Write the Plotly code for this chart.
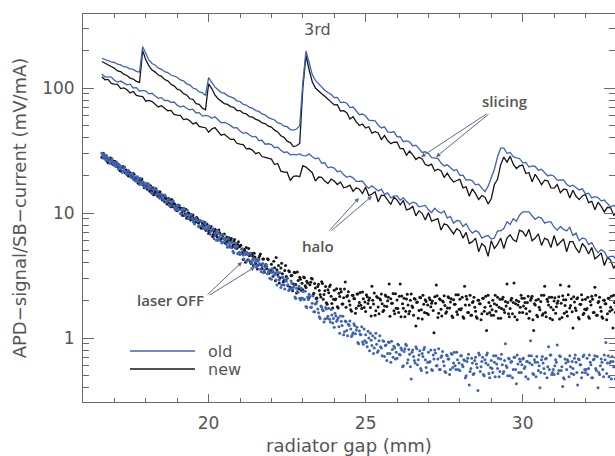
import plotly.graph_objects as go

# ---------------- data ----------------
# line traces sampled every 0.1 mm from 16.6 to 33.0 mm
gap_line = [round(16.6 + 0.1 * i, 2) for i in range(165)]

slicing_old = [
    173, 169, 167, 162,
    160, 155, 153, 148, 147, 142, 141, 136, 134, 214,
    190, 167, 157, 152, 144, 141, 135, 133, 127, 125,
    122, 116, 114, 108, 106, 100, 98, 93, 92, 87,
    121, 111, 102, 97, 92, 91, 87, 85, 83, 79,
    78, 74, 73, 70, 69, 66, 65, 62, 61, 58,
    57, 55.5, 52.5, 52, 49.5, 49, 46.5, 46, 47, 50,
    110, 198, 160, 128, 115, 108, 102, 96, 92, 89,
    83.9, 84.0, 76.4, 77.2, 75.5, 69.8, 70.4, 65.1, 61.1, 61.9,
    59.7, 55.4, 55.3, 54.7, 50.4, 47.9, 48.9, 44.6, 44.2, 44.8,
    40.6, 40.8, 37.2, 37.8, 37.1, 34.4, 34.9, 32.3, 30.5, 30.9,
    29.9, 27.7, 27.6, 27.3, 25.1, 23.8, 24.3, 22.9, 21.9, 22.2,
    20.0, 20.1, 18.3, 18.5, 18.1, 16.8, 17.0, 15.8, 14.8, 16.4,
    19.3, 22.4, 28.2, 33.0, 33.0, 30.0, 30.5, 28.2, 27.6, 27.3,
    25.2, 25.4, 23.3, 23.8, 23.6, 21.9, 22.4, 20.9, 19.8, 20.2,
    19.7, 18.3, 18.4, 18.4, 17.0, 16.3, 16.7, 15.9, 15.3, 15.6,
    14.2, 14.4, 13.2, 13.5, 13.3, 12.5, 12.7, 11.9, 11.2, 11.5,
    11.0,
]

slicing_new = [
    163, 158, 154, 147,
    144, 137, 135, 129, 126, 120, 118, 113, 111, 200,
    168, 150, 139, 134, 127, 124, 117, 114, 107, 104,
    98, 96, 90, 88, 82, 81, 75, 74, 69, 67,
    108, 99, 88, 82, 78, 75, 74, 71, 70, 66,
    66, 63, 62, 59, 58.5, 56, 55, 52.5, 52, 49.5,
    48.7, 46, 44.5, 41.5, 40.3, 37.6, 36.6, 34, 34.5, 36,
    100, 182, 140, 112, 100, 94, 90, 86, 82, 78,
    73.3, 73.5, 65.5, 65.8, 63.4, 56.4, 59.0, 53.6, 50.1, 51.5,
    47.8, 49.0, 43.5, 44.7, 43.7, 38.7, 41.7, 38.0, 35.9, 36.8,
    36.8, 32.7, 32.7, 29.0, 31.3, 29.2, 26.8, 27.9, 27.1, 24.4,
    23.9, 24.6, 21.7, 22.4, 21.8, 19.3, 20.8, 18.9, 17.7, 18.2,
    18.6, 15.9, 16.2, 13.6, 15.6, 14.3, 12.8, 13.8, 13.4, 11.8,
    13.0, 16.9, 18.6, 24.4, 28.0, 25.5, 28.4, 24.6, 22.7, 23.8,
    24.2, 20.7, 21.1, 17.8, 20.4, 18.7, 16.8, 18.3, 18.1, 15.9,
    15.8, 16.9, 14.5, 15.5, 15.4, 13.2, 15.2, 13.6, 12.8, 13.7,
    14.1, 12.1, 12.4, 10.6, 12.2, 11.3, 10.2, 11.1, 11.0, 9.6,
    10.0,
]

halo_old = [
    129.5, 122.8, 122.7, 122.4,
    115.4, 111.5, 113.6, 109, 106, 107.3, 100, 100.7, 94.3, 95.6,
    94.6, 89.7, 90.8, 86.2, 82.7, 83.8, 79.4, 79.6, 76.8, 77.3,
    72.9, 70.4, 71.8, 68.9, 66.9, 67.8, 63.1, 63.6, 59.6, 60.4,
    59.7, 57.3, 58.9, 55.7, 52.7, 53.1, 52.0, 50.0, 48.0, 48.1,
    45.2, 43.4, 44.1, 42.1, 40.7, 41.0, 38.0, 38.2, 35.5, 35.8,
    35.3, 33.3, 33.6, 31.8, 30.5, 30.8, 29.2, 29.4, 29.2, 29.7,
    28.8, 28.6, 29.7, 28.2, 27.2, 27.6, 25.0, 25.2, 23.0, 23.4,
    22.9, 21.4, 21.7, 20.2, 19.3, 19.7, 19.1, 17.9, 18.0, 18.0,
    16.6, 15.8, 16.5, 15.6, 15.0, 15.5, 14.1, 14.5, 13.2, 13.7,
    13.7, 12.7, 13.2, 12.4, 11.7, 12.2, 12.0, 11.2, 11.4, 11.5,
    10.6, 10.1, 10.9, 10.3, 10.0, 10.4, 9.1, 9.4, 8.3, 8.7,
    8.6, 7.8, 8.2, 7.4, 6.9, 7.2, 7.0, 6.3, 6.5, 6.6,
    6.2, 6.3, 7.2, 7.2, 7.5, 8.5, 8.1, 9.0, 8.6, 9.6,
    10.2, 10.2, 10.2, 9.5, 8.9, 9.3, 9.1, 8.3, 8.5, 8.5,
    7.7, 7.3, 7.8, 7.4, 7.2, 7.7, 6.6, 6.9, 6.0, 6.3,
    6.2, 5.6, 5.8, 5.2, 4.8, 5.1, 4.9, 4.4, 4.5, 4.5,
    4.1,
]

halo_new = [
    122.8, 116.4, 117.2, 108.9,
    107.5, 107.1, 98.9, 100.1, 96.8, 91.3, 93.7, 87.1, 86.0, 85.2,
    78.4, 79.7, 77.9, 73.8, 70.6, 72.2, 69.4, 65.8, 66.2, 61.5,
    60.7, 60.5, 55.9, 56.6, 54.7, 51.6, 52.9, 49.3, 48.6, 48.1,
    44.3, 47.0, 48.2, 44.6, 41.9, 42.7, 41.0, 38.8, 39.0, 36.1,
    35.5, 35.3, 32.6, 32.8, 31.7, 29.8, 30.5, 28.3, 27.9, 27.5,
    27.0, 24.4, 24.9, 21.6, 21.2, 21.2, 18.2, 19.6, 19.8, 19.5,
    23.9, 23.3, 22.0, 21.0, 18.0, 19.4, 19.3, 18.0, 17.2, 18.7,
    18.0, 16.9, 17.7, 15.9, 16.2, 16.7, 14.9, 15.9, 15.5, 14.3,
    16.1, 13.8, 14.2, 14.8, 12.3, 13.9, 13.8, 12.6, 11.7, 13.4,
    12.7, 11.6, 12.6, 10.6, 10.8, 11.3, 9.5, 10.4, 9.9, 8.8,
    10.1, 8.6, 8.8, 9.0, 7.3, 8.2, 8.0, 7.3, 6.8, 7.5,
    7.2, 6.3, 7.0, 5.7, 5.9, 6.3, 4.9, 5.7, 5.4, 4.5,
    6.0, 5.2, 5.6, 6.3, 5.2, 6.3, 6.7, 6.1, 5.9, 7.3,
    7.1, 6.5, 7.4, 6.0, 6.3, 6.8, 5.5, 6.3, 6.1, 5.3,
    6.6, 5.5, 5.8, 6.2, 4.9, 5.9, 5.9, 5.2, 4.8, 5.7,
    5.3, 4.7, 5.3, 4.3, 4.5, 4.8, 3.8, 4.4, 4.2, 3.6,
    4.0,
]

# laser OFF scatter: two interleaved samplings, every 0.05 mm each
gap_off_a = [round(16.6 + 0.05 * i, 3) for i in range(328)]
gap_off_b = [round(16.625 + 0.05 * i, 3) for i in range(328)]

laser_off_old_a = [
    30.0, 27.4, 28.2, 28.8, 26.3, 25.0, 26.6, 25.3,
    25.4, 23.4, 24.1, 24.4, 22.5, 21.2, 22.7, 21.5, 20.5, 21.9, 20.1, 20.6, 18.6, 19.4, 18.3, 19.1, 16.9, 17.7, 17.8, 16.3,
    15.9, 17.0, 15.7, 15.9, 14.3, 15.4, 15.5, 14.0, 14.2, 13.1, 14.1, 12.9, 13.9, 12.2, 12.7, 11.5, 12.3, 12.4, 11.4, 10.5,
    11.5, 10.6, 9.9, 10.7, 10.9, 9.56, 9.84, 9.03, 9.6, 9.78, 8.71, 8.18, 9.0, 8.61, 7.9, 8.6, 7.92, 7.63, 8.27, 7.21,
    7.64, 6.77, 7.2, 7.47, 6.58, 6.04, 6.84, 6.38, 5.94, 6.74, 5.88, 6.23, 5.31, 5.82, 5.32, 5.81, 4.79, 5.26, 5.37, 4.7,
    4.66, 5.14, 4.62, 4.75, 4.11, 4.65, 4.73, 4.09, 4.21, 3.8, 4.24, 3.8, 4.24, 3.54, 3.76, 3.33, 3.69, 3.76, 3.38, 3.01,
    2.95, 3.43, 3.23, 2.91, 3.36, 2.92, 2.53, 3.08, 2.66, 2.88, 3.0, 2.4, 2.49, 2.74, 2.55, 2.13, 2.5, 2.32, 2.08, 2.5,
    2.36, 2.03, 1.79, 2.13, 2.24, 1.76, 1.9, 1.62, 1.87, 1.96, 1.59, 1.43, 1.77, 1.65, 1.42, 1.71, 1.49, 1.41, 1.69, 1.32,
    1.22, 1.5, 1.4, 1.23, 1.5, 1.26, 1.06, 1.37, 1.15, 1.29, 1.37, 1.03, 1.1, 1.26, 1.16, 0.92, 1.14, 1.06, 0.93, 1.18,
    1.06, 0.85, 1.0, 1.09, 0.87, 0.75, 1.0, 0.89, 0.79, 1.04, 0.83, 0.95, 0.71, 0.88, 0.75, 0.92, 0.64, 0.81, 0.86, 0.68,
    0.69, 0.88, 0.73, 0.8, 0.6, 0.82, 0.87, 0.67, 0.74, 0.47, 0.8, 0.66, 0.85, 0.61, 0.73, 0.57, 0.75, 0.81, 0.67, 0.53,
    0.77, 0.65, 0.56, 0.73, 0.8, 0.6, 0.68, 0.56, 0.7, 0.78, 0.6, 0.53, 0.72, 0.68, 0.56, 0.74, 0.63, 0.6, 0.77, 0.56,
    0.55, 0.72, 0.59, 0.66, 0.5, 0.69, 0.42, 0.57, 0.63, 0.52, 0.7, 0.58, 0.76, 0.54, 0.65, 0.51, 0.67, 0.73, 0.61, 0.48,
    0.66, 0.53, 0.64, 0.72, 0.57, 0.49, 0.68, 0.61, 0.54, 0.9, 0.58, 0.69, 0.5, 0.65, 0.56, 0.7, 0.43, 0.62, 0.68, 0.53,
    0.68, 0.57, 0.49, 0.65, 0.72, 0.95, 0.61, 0.51, 0.64, 0.71, 0.55, 0.4, 0.67, 0.63, 0.52, 0.69, 0.59, 0.56, 0.73, 0.53,
    0.51, 0.67, 0.88, 0.55, 0.71, 0.59, 0.48, 0.68, 0.56, 0.65, 0.72, 0.52, 0.57, 0.69, 0.64, 0.42, 0.67, 0.61, 0.53, 0.73,
    0.53, 0.69, 0.57, 0.64, 0.48, 0.67, 0.72, 0.55, 0.4, 0.51, 0.68, 0.56, 0.73, 0.92, 0.63, 0.49, 0.65, 0.71, 0.59, 0.47,
]

laser_off_old_b = [
    28.7, 29.6, 26.6, 27.5, 27.6, 25.6, 27.1, 24.4,
    24.4, 25.5, 22.5, 23.4, 23.7, 21.7, 23.3, 20.6, 21.6, 20.6, 19.3, 20.5, 19.7, 18.0, 19.5, 17.9, 19.0, 17.0, 17.6, 16.9,
    17.3, 16.1, 16.3, 14.5, 15.5, 15.8, 14.0, 14.9, 13.3, 14.1, 13.5, 12.7, 13.7, 12.5, 13.0, 11.4, 12.1, 12.5, 10.9, 11.1,
    10.7, 11.5, 9.84, 10.5, 10.7, 9.56, 10.5, 9.03, 9.68, 9.12, 8.42, 9.17, 8.79, 7.79, 8.76, 7.88, 8.55, 7.44, 7.84, 7.51,
    7.86, 7.13, 7.34, 6.23, 6.92, 7.24, 6.12, 6.7, 5.75, 6.31, 6.0, 5.59, 6.23, 5.54, 5.87, 4.94, 5.37, 5.73, 4.75, 4.85,
    4.75, 5.18, 4.29, 4.66, 4.79, 4.21, 4.77, 3.96, 4.34, 4.05, 3.68, 4.12, 3.93, 3.39, 3.95, 3.48, 3.87, 3.27, 3.51, 3.34,
    3.59, 3.17, 3.32, 2.65, 3.10, 3.33, 2.66, 3.04, 2.47, 2.84, 2.67, 2.44, 2.86, 2.45, 2.62, 2.07, 2.35, 2.59, 2.01, 2.09,
    2.05, 2.37, 1.75, 2.03, 2.15, 1.76, 2.17, 1.62, 1.89, 1.71, 1.48, 1.80, 1.69, 1.34, 1.75, 1.44, 1.73, 1.34, 1.53, 1.43,
    1.58, 1.36, 1.45, 1.09, 1.36, 1.49, 1.12, 1.35, 1.04, 1.26, 1.18, 1.06, 1.30, 1.08, 1.22, 0.90, 1.07, 1.23, 0.89, 0.95,
    0.92, 1.13, 0.79, 0.96, 1.04, 0.83, 1.09, 0.77, 0.95, 0.85, 0.72, 0.94, 0.87, 0.66, 0.93, 0.75, 0.94, 0.70, 0.83, 0.77,
    0.89, 0.74, 0.83, 0.59, 0.78, 0.89, 0.63, 0.81, 0.59, 0.77, 0.71, 0.63, 0.82, 0.67, 0.79, 0.55, 0.71, 0.84, 0.58, 0.64,
    0.64, 0.80, 0.55, 0.68, 0.76, 0.60, 0.82, 0.56, 0.72, 0.65, 0.54, 0.73, 0.68, 0.51, 0.75, 0.58, 0.77, 0.56, 0.67, 0.63,
    0.72, 0.61, 0.67, 0.48, 0.65, 0.74, 0.54, 0.69, 0.51, 0.66, 0.62, 0.38, 0.73, 0.59, 0.70, 0.50, 0.63, 0.76, 0.52, 0.58,
    0.57, 0.72, 0.49, 0.62, 0.69, 0.54, 0.74, 0.52, 0.66, 0.60, 0.50, 0.68, 0.64, 0.48, 0.70, 0.56, 0.73, 0.53, 0.65, 0.61,
    0.69, 0.59, 0.65, 0.47, 0.63, 0.72, 0.52, 0.67, 0.49, 0.64, 0.60, 0.53, 0.71, 0.57, 0.68, 0.48, 0.85, 0.73, 0.51, 0.56,
    0.60, 0.64, 0.52, 0.72, 0.55, 0.41, 0.47, 0.63, 0.67, 0.49, 0.59, 0.65, 0.51, 0.73, 0.53, 0.68, 0.61, 0.48, 0.71, 0.56,
    0.56, 0.51, 0.73, 0.61, 0.48, 0.68, 0.57, 0.71, 0.53, 0.60, 0.64, 0.49, 0.67, 0.52, 0.72, 0.63, 0.47, 0.65, 0.59, 0.69,
]

laser_off_new_a = [
    27.9, 29.9, 27.6, 27.9, 25.2, 27.4, 27.3, 24.5,
    24.1, 25.3, 23.5, 23.7, 21.7, 23.1, 23.2, 21.0, 21.2, 19.8, 21.0, 19.5, 20.7, 18.4, 18.9, 17.4, 18.4, 18.4, 17.2, 15.9,
    17.0, 15.5, 16.1, 16.5, 15.0, 14.0, 15.1, 14.4, 13.6, 14.8, 13.3, 13.8, 12.3, 13.0, 12.2, 12.8, 11.2, 11.8, 11.9, 10.8,
    10.4, 11.2, 10.8, 10.1, 10.9, 9.88, 9.06, 10.0, 9.15, 9.48, 9.65, 8.4, 8.51, 8.94, 8.5, 7.62, 8.3, 7.88, 7.35, 8.11,
    6.84, 7.59, 7.26, 6.73, 7.43, 6.71, 6.08, 6.94, 6.26, 6.6, 6.78, 5.79, 5.93, 6.34, 6.02, 5.32, 5.93, 5.62, 5.22, 5.88,
    5.45, 4.76, 4.25, 5.02, 5.29, 4.23, 4.56, 3.95, 4.52, 4.77, 3.95, 3.57, 4.38, 4.7, 3.59, 4.28, 3.75, 3.58, 4.24, 3.37,
    3.89, 3.12, 3.64, 4.4, 3.2, 2.75, 3.63, 3.26, 2.89, 3.8, 3.0, 3.45, 2.55, 3.17, 2.71, 3.32, 2.29, 2.88, 3.06, 2.41,
    2.43, 3.04, 2.53, 2.76, 2.11, 2.79, 2.96, 2.28, 2.51, 2.09, 2.69, 2.23, 2.82, 2.04, 2.39, 1.91, 2.43, 2.58, 2.16, 1.74,
    2.41, 2.05, 1.78, 2.28, 2.47, 1.87, 2.1, 2.8, 2.15, 2.34, 1.84, 1.64, 2.19, 2.06, 1.73, 2.25, 1.92, 1.83, 2.33, 1.75,
    1.63, 2.14, 2.0, 1.75, 2.6, 1.87, 1.52, 2.15, 1.77, 2.06, 2.25, 1.63, 1.8, 2.16, 1.99, 2.7, 2.06, 1.9, 1.65, 2.26,
    2.01, 1.6, 2.7, 2.17, 1.73, 1.48, 2.05, 1.84, 1.64, 2.25, 1.75, 2.07, 1.25, 1.94, 1.66, 2.1, 1.42, 1.86, 2.02, 1.58,
    1.54, 2.02, 1.9, 1.66, 2.14, 2.65, 1.46, 2.06, 1.7, 1.98, 2.18, 1.58, 1.74, 2.1, 1.94, 1.5, 2.02, 1.86, 1.62, 2.22,
    2.04, 1.72, 1.48, 2.6, 2.16, 1.6, 1.84, 1.52, 1.92, 2.12, 1.64, 1.44, 2.0, 1.88, 1.56, 2.08, 1.76, 1.15, 2.2, 1.6,
    1.52, 2.0, 1.88, 1.64, 2.12, 1.76, 1.44, 2.04, 1.68, 1.96, 2.7, 1.56, 1.72, 2.08, 1.92, 1.48, 2.0, 1.84, 1.6, 2.2,
    1.6, 2.08, 1.72, 1.92, 1.44, 2.0, 2.16, 1.15, 1.84, 1.52, 2.04, 1.68, 2.2, 1.56, 2.6, 1.48, 1.96, 2.12, 1.76, 1.4,
    1.98, 1.58, 1.9, 2.14, 2.65, 1.46, 2.02, 1.82, 1.62, 2.22, 1.74, 2.06, 1.2, 1.94, 1.66, 2.1, 1.42, 1.86, 2.02, 1.58,
    2.04, 1.72, 1.48, 1.96, 2.16, 1.6, 2.55, 1.52, 1.92, 2.12, 1.64, 1.44, 2.0, 1.88, 1.56, 2.08, 1.76, 1.68, 2.2, 1.6,
]

laser_off_new_b = [
    30.1, 28.4, 28.5, 26.0, 27.1, 27.5, 25.0, 25.9,
    25.8, 24.2, 24.4, 21.9, 23.2, 23.6, 21.2, 22.1, 20.1, 21.1, 20.3, 19.3, 20.4, 18.9, 19.4, 17.3, 18.1, 18.7, 16.6, 16.6,
    16.2, 17.1, 14.9, 15.7, 15.9, 14.4, 15.6, 13.7, 14.5, 13.7, 12.7, 13.7, 13.2, 11.8, 13.1, 11.9, 12.8, 11.2, 11.7, 11.3,
    11.6, 10.7, 10.9, 9.57, 10.4, 10.7, 9.29, 9.95, 8.78, 9.41, 9.0, 8.47, 9.2, 8.33, 8.7, 7.55, 8.04, 8.45, 7.23, 7.33,
    7.13, 7.80, 6.48, 7.07, 7.30, 6.44, 7.32, 6.11, 6.70, 6.29, 5.76, 6.43, 6.16, 5.38, 6.24, 5.54, 6.14, 5.25, 5.63, 5.38,
    5.53, 4.84, 5.12, 4.03, 4.80, 5.19, 4.09, 4.74, 3.81, 4.45, 4.2, 3.82, 4.56, 3.88, 4.29, 3.35, 3.87, 4.31, 3.30, 3.48,
    3.38, 4.12, 2.87, 3.52, 3.81, 3.02, 3.96, 2.80, 3.47, 3.11, 2.62, 3.39, 3.15, 2.39, 3.36, 2.68, 3.37, 2.48, 2.95, 2.74,
    3.08, 2.62, 2.85, 2.08, 2.67, 3.0, 2.21, 2.73, 2.07, 2.58, 2.40, 2.13, 2.73, 2.23, 2.58, 1.86, 2.30, 2.66, 1.89, 2.04,
    2.02, 2.48, 1.74, 2.15, 2.34, 1.87, 2.47, 1.76, 2.19, 1.98, 1.68, 2.2, 2.07, 1.58, 2.25, 1.81, 2.31, 1.72, 2.06, 1.94,
    2.22, 1.89, 2.09, 1.5, 2.0, 2.29, 1.65, 2.11, 1.56, 2.01, 1.88, 1.67, 2.21, 1.79, 2.12, 1.49, 1.9, 2.27, 1.56, 1.73,
    1.72, 2.16, 1.48, 1.88, 2.08, 1.64, 2.24, 1.56, 2.0, 1.8, 1.52, 2.04, 1.92, 1.44, 2.12, 1.68, 2.2, 1.6, 1.96, 1.84,
    2.1, 1.78, 1.98, 1.1, 1.9, 2.18, 1.58, 2.02, 1.5, 1.94, 1.82, 1.62, 2.14, 1.74, 2.06, 1.46, 1.86, 2.22, 1.54, 1.7,
    1.68, 2.12, 1.44, 1.84, 2.04, 1.6, 2.2, 1.52, 1.96, 1.76, 1.48, 2.0, 1.88, 1.4, 2.08, 1.64, 2.16, 1.56, 1.92, 1.8,
    1.68, 1.52, 2.2, 1.84, 1.44, 2.04, 1.72, 2.12, 1.6, 1.8, 1.92, 1.48, 2.0, 1.56, 2.75, 1.88, 1.4, 1.96, 1.76, 2.08,
    1.8, 1.92, 1.56, 2.16, 1.64, 2.08, 1.4, 1.88, 2.0, 1.48, 1.76, 1.96, 1.52, 2.2, 1.6, 2.04, 1.84, 1.44, 2.12, 1.68,
    2.1, 1.78, 1.98, 1.42, 1.9, 2.18, 1.58, 2.02, 1.5, 2.6, 1.82, 1.62, 2.14, 1.74, 2.06, 1.46, 1.86, 2.22, 1.54, 1.7,
    1.68, 2.12, 1.44, 1.84, 2.04, 1.6, 2.2, 1.52, 1.96, 1.76, 1.48, 2.0, 1.88, 1.4, 2.08, 1.64, 2.16, 1.2, 1.92, 1.8,
]

x_major = [20, 25, 30]
x_minor = [17, 18, 19, 21, 22, 23, 24, 26, 27, 28, 29, 31, 32]
y_major = [1, 10, 100]
y_major_text = ["1", "10", "100"]
y_minor = [0.4, 0.5, 0.6, 0.7, 0.8, 0.9, 2, 3, 4, 5, 6, 7, 8, 9,
           20, 30, 40, 50, 60, 70, 80, 90, 200, 300]

series_names = ["old", "new"]

# ---------------- styling ----------------
BLUE = "#3f63b3"
BLACK = "#161616"
TXT = "#555555"
AX = "#6a6a6a"
ARROW = "#5a6b92"
AXFONT = "DejaVu Sans"
LBLFONT = "Open Sans"

fig = go.Figure()

# laser OFF scatter (new under old)
for xs, ys in [(gap_off_a, laser_off_new_a), (gap_off_b, laser_off_new_b)]:
    fig.add_trace(go.Scatter(x=xs, y=ys, mode="markers",
                             marker=dict(size=3, color=BLACK), name="laser OFF new",
                             showlegend=False, hoverinfo="skip"))
for xs, ys in [(gap_off_a, laser_off_old_a), (gap_off_b, laser_off_old_b)]:
    fig.add_trace(go.Scatter(x=xs, y=ys, mode="markers",
                             marker=dict(size=3, color=BLUE), name="laser OFF old",
                             showlegend=False, hoverinfo="skip"))

for yvals, col, nm in [(halo_new, BLACK, "halo new"), (slicing_new, BLACK, "slicing new"),
                       (halo_old, BLUE, "halo old"), (slicing_old, BLUE, "slicing old")]:
    fig.add_trace(go.Scatter(x=gap_line, y=yvals, mode="lines",
                             line=dict(color=col, width=1.3), name=nm,
                             showlegend=False, hoverinfo="skip"))

# ---------------- axes ----------------
fig.update_xaxes(
    range=[16.0, 32.94], showgrid=False, zeroline=False,
    showline=True, linecolor=AX, linewidth=1, mirror="ticks",
    ticks="inside", ticklen=8, tickcolor=AX, tickwidth=1,
    tickvals=x_major, ticktext=[str(v) for v in x_major],
    tickfont=dict(family=AXFONT, size=17, color=TXT), ticklabelstandoff=6,
    minor=dict(tickvals=x_minor, ticks="inside", ticklen=4, tickcolor=AX),
    title=dict(text="radiator gap (mm)", font=dict(family=AXFONT, size=18, color=TXT),
               standoff=6),
)
fig.update_yaxes(
    type="log", range=[-0.512, 2.592], showgrid=False, zeroline=False,
    showline=True, linecolor=AX, linewidth=1, mirror="ticks",
    ticks="inside", ticklen=11, tickcolor=AX, tickwidth=1,
    tickvals=y_major, ticktext=y_major_text,
    tickfont=dict(family=AXFONT, size=17, color=TXT), ticklabelstandoff=4,
    minor=dict(tickvals=y_minor, ticks="inside", ticklen=6, tickcolor=AX),
    title=dict(text="APD\u2212signal/SB\u2212current (mV/mA)",
               font=dict(family=AXFONT, size=18, color=TXT), standoff=10),
)

# ---------------- annotations ----------------
def px2paper(px, py):
    return (px - 83) / 532.0, (402 - py) / 388.0

annotations = []

def label(text, px, py, size=15, family=LBLFONT, weight=600):
    x, y = px2paper(px, py)
    annotations.append(dict(x=x, y=y, xref="paper", yref="paper", text=text,
                            showarrow=False, xanchor="center", yanchor="middle",
                            font=dict(family=family, size=size, color=TXT, weight=weight)))

def arrow(tail, tip):
    x, y = px2paper(*tip)
    annotations.append(dict(x=x, y=y, xref="paper", yref="paper", text="",
                            showarrow=True, ax=tail[0] - tip[0], ay=tail[1] - tip[1],
                            arrowhead=2, arrowsize=0.9, arrowwidth=1, arrowcolor=ARROW))

label("3rd", 317, 30, size=16, family=AXFONT, weight=400)
label("slicing", 505, 101)
arrow((488, 113), (421, 157))
arrow((490, 113), (436, 157))
label("halo", 318, 246)
arrow((328, 232), (359, 198))
arrow((330, 232), (372, 196))
label("laser OFF", 170, 300)
arrow((206, 296), (242, 262))
arrow((208, 296), (255, 267))

# legend drawn as short line samples with labels
shapes = []
for (name, col, py) in [(series_names[0], BLUE, 351), (series_names[1], BLACK, 369)]:
    x0, y0 = px2paper(130, py)
    x1, _ = px2paper(195, py)
    shapes.append(dict(type="line", xref="paper", yref="paper", x0=x0, x1=x1, y0=y0, y1=y0,
                       line=dict(color=col, width=1.3)))
    tx, ty = px2paper(206, py)
    annotations.append(dict(x=tx, y=ty, xref="paper", yref="paper", text=name,
                            showarrow=False, xanchor="left", yanchor="middle",
                            font=dict(family=AXFONT, size=16, color=TXT)))

fig.update_layout(
    width=615, height=456,
    margin=dict(l=83, r=0, t=14, b=54, autoexpand=False),
    paper_bgcolor="white", plot_bgcolor="white",
    showlegend=False,
    annotations=annotations, shapes=shapes,
)

fig.write_html("out.html", config={"displayModeBar": False},
               post_script="document.body.style.margin='0px';")
